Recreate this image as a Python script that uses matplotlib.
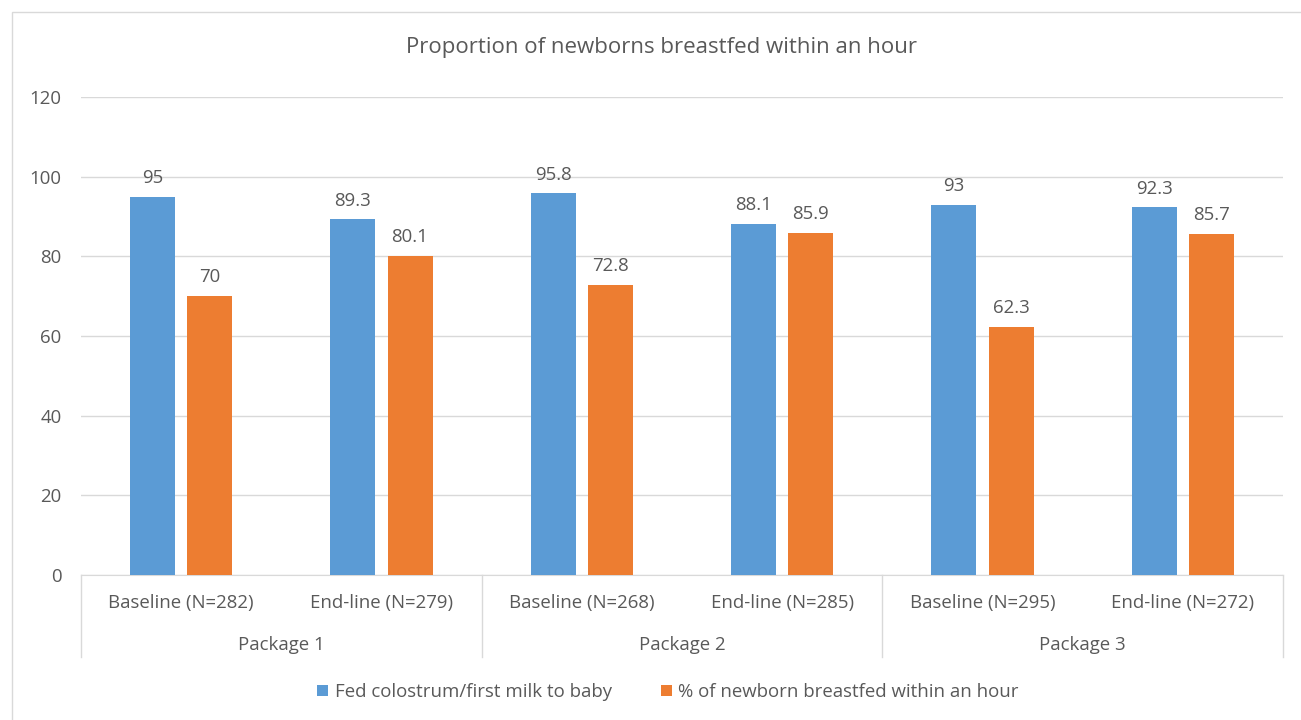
import matplotlib.pyplot as plt
import matplotlib
import numpy as np
from matplotlib.patches import Rectangle
from matplotlib.lines import Line2D

matplotlib.rcParams['font.family'] = ['Open Sans', 'DejaVu Sans']

# data
rounds = ['Baseline (N=282)', 'End-line (N=279)', 'Baseline (N=268)',
          'End-line (N=285)', 'Baseline (N=295)', 'End-line (N=272)']
packages = ['Package 1', 'Package 2', 'Package 3']
colostrum = [95, 89.3, 95.8, 88.1, 93, 92.3]
within_hour = [70, 80.1, 72.8, 85.9, 62.3, 85.7]
series_names = ['Fed colostrum/first milk to baby', '% of newborn breastfed within an hour']

blue = '#5B9BD5'
orange = '#ED7D31'
txt = '#595959'
grid = '#D9D9D9'
fs = 13.4

W, H = 1301, 720
fig = plt.figure(figsize=(W / 100, H / 100), dpi=100)

# outer chart border
fig.patches.append(Rectangle((12 / W, -0.01), 1.2, 1 - 12 / H + 0.01, transform=fig.transFigure,
                             fill=False, edgecolor=grid, linewidth=1))

ax = fig.add_axes([81 / W, 145 / H, (1283 - 81) / W, (575 - 97) / H])
x = np.arange(len(rounds))
bw = 0.225
gap = 0.06
off = (bw + gap) / 2
b1 = ax.bar(x - off, colostrum, bw, color=blue, label=series_names[0], zorder=3)
b2 = ax.bar(x + off, within_hour, bw, color=orange, label=series_names[1], zorder=3)

for bars, vals in ((b1, colostrum), (b2, within_hour)):
    for r, v in zip(bars, vals):
        ax.annotate('%g' % v, xy=(r.get_x() + r.get_width() / 2, v), xytext=(0, 7),
                    textcoords='offset points', ha='center', va='bottom',
                    fontsize=fs, color=txt)

ax.set_xlim(-0.5, len(rounds) - 0.5)
ax.set_ylim(0, 120)
ax.set_yticks(range(0, 121, 20))
ax.yaxis.grid(True, color=grid, linewidth=1, zorder=0)
ax.tick_params(axis='y', length=0, labelsize=fs, labelcolor=txt, pad=14)
ax.set_xticks([])
for s in ['top', 'right', 'left']:
    ax.spines[s].set_visible(False)
ax.spines['bottom'].set_color(grid)

# two-level category axis
for i, lab in enumerate(rounds):
    ax.text(i, -7, lab, ha='center', va='center', fontsize=fs, color=txt)
for j, p in enumerate(packages):
    ax.text(2 * j + 0.5, -17.5, p, ha='center', va='center', fontsize=fs, color=txt)
for k in range(len(packages) + 1):
    ax.add_line(Line2D([2 * k - 0.5, 2 * k - 0.5], [0, -20.5], color=grid, linewidth=1,
                       clip_on=False))

fig.text(662 / W, 1 - 48 / H, 'Proportion of newborns breastfed within an hour',
         ha='center', va='center', fontsize=16, color=txt)

leg = fig.legend(loc='center', bbox_to_anchor=(668 / W, 1 - 692 / H), ncol=2, frameon=False,
                 fontsize=fs, handlelength=0.6, handleheight=0.6, handletextpad=0.35,
                 columnspacing=2.6, labelcolor=txt)

fig.savefig('out.png', dpi=100)
